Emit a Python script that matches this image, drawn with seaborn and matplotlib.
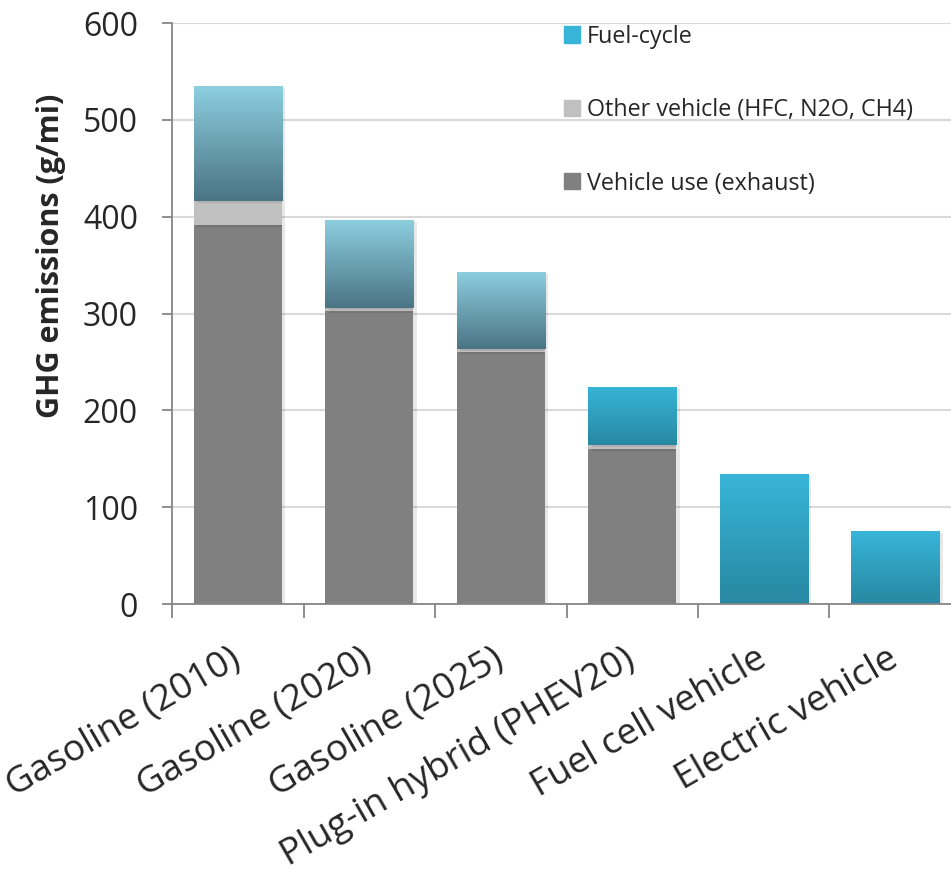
import numpy as np
import matplotlib
matplotlib.use("Agg")
import matplotlib.pyplot as plt
import matplotlib.patches as mpatches
import matplotlib.colors as mcolors
import matplotlib.patheffects as pe
import matplotlib.transforms as mtransforms
import seaborn as sns

# ──────────────────────────────────────────────
# Data (g/mi)
# ──────────────────────────────────────────────
categories = ["Gasoline (2010)", "Gasoline (2020)", "Gasoline (2025)",
              "Plug-in hybrid (PHEV20)", "Fuel cell vehicle", "Electric vehicle"]
vehicle_use = [391, 303, 260, 160, 0, 0]
other_vehicle = [25, 3, 3, 4, 0, 0]
fuel_cycle = [119, 91, 80, 60, 134, 75]

series_names = ["Vehicle use (exhaust)", "Other vehicle (HFC, N2O, CH4)", "Fuel-cycle"]

# ──────────────────────────────────────────────
# Style
# ──────────────────────────────────────────────
sns.set_style("white")
plt.rcParams["font.family"] = ["Open Sans", "DejaVu Sans"]

GRAY_DARK = "#808080"
GRAY_LIGHT = "#c0c0c0"
AXIS_GRAY = "#868686"
GRID_GRAY = "#d9d9d9"
# gradients (top, bottom)
GRAD_PALE = ("#8dcfe0", "#4a7484")
GRAD_BRIGHT = ("#37b5d8", "#2888a2")

fig = plt.figure(figsize=(9.51, 8.72), dpi=100)
ax = fig.add_axes([172 / 951, 268 / 872, 789 / 951, 581 / 872])

bottom_other = np.array(vehicle_use)
bottom_fuel = bottom_other + np.array(other_vehicle)

sns.barplot(x=categories, y=vehicle_use, color=GRAY_DARK, width=0.67,
            linewidth=0, saturation=1, ax=ax)
sns.barplot(x=categories, y=other_vehicle, color=GRAY_LIGHT, width=0.67,
            linewidth=0, saturation=1, bottom=bottom_other, ax=ax)
sns.barplot(x=categories, y=fuel_cycle, color="white", width=0.67,
            linewidth=0, saturation=1, bottom=bottom_fuel, ax=ax)

# soft drop shadow like the original
shadow = [pe.SimplePatchShadow(offset=(2.5, -1.5), shadow_rgbFace="#000000", alpha=0.09),
          pe.Normal()]
for p in ax.patches:
    if p.get_height() > 0:
        p.set_path_effects(shadow)

# gradient fill for the fuel-cycle bars
fuel_patches = ax.patches[-len(categories):]
for i, p in enumerate(fuel_patches):
    top_c, bot_c = GRAD_PALE if i < 3 else GRAD_BRIGHT
    t = np.linspace(0, 1, 256)[:, None]
    c0 = np.array(mcolors.to_rgb(top_c))
    c1 = np.array(mcolors.to_rgb(bot_c))
    grad = (c0 * (1 - t) + c1 * t)[:, None, :]
    x0, y0 = p.get_x(), p.get_y()
    w, h = p.get_width(), p.get_height()
    p.set_facecolor(bot_c)
    im = ax.imshow(grad, extent=[x0, x0 + w, y0, y0 + h], origin="upper",
                   aspect="auto", zorder=p.get_zorder() + 0.01, interpolation="bilinear")
    im.set_clip_path(p)

ax.set_xlim(-0.5, len(categories) - 0.5)
ax.set_ylim(0, 600)
ax.set_yticks(range(0, 601, 100))

ax.set_axisbelow(True)
ax.yaxis.grid(True, color=GRID_GRAY, linewidth=1.5)
ax.xaxis.grid(False)

for s in ["top", "right"]:
    ax.spines[s].set_visible(False)
for s in ["left", "bottom"]:
    ax.spines[s].set_color(AXIS_GRAY)
    ax.spines[s].set_linewidth(1.3)

ax.tick_params(axis="y", which="major", direction="out", length=7.5, width=1.3,
               color=AXIS_GRAY, labelsize=23, pad=17, left=True)
ax.set_xticks(np.arange(-0.5, len(categories), 1.0), minor=True)
ax.tick_params(axis="x", which="minor", direction="out", length=10, width=1.3,
               color=AXIS_GRAY, bottom=True)
ax.tick_params(axis="x", which="major", length=0, pad=27, labelsize=26.5)
ax.set_xticks(range(len(categories)))
ax.set_xticklabels(categories, rotation=30, ha="right", rotation_mode="anchor")

# nudge the slanted category labels a little to the left
nudge = mtransforms.ScaledTranslation(-9 / 100, 0, fig.dpi_scale_trans)
for lab in ax.get_xticklabels():
    lab.set_transform(lab.get_transform() + nudge)

ax.set_xlabel("")
ax.set_ylabel("GHG emissions (g/mi)", fontsize=22, fontweight="bold")
ax.yaxis.set_label_coords((66 - 172) / 789, (604 - 256) / 581)

handles = [
    mpatches.Patch(color=GRAD_BRIGHT[0], label=series_names[2]),
    mpatches.Patch(color=GRAY_LIGHT, label=series_names[1]),
    mpatches.Patch(color=GRAY_DARK, label=series_names[0]),
]
ax.legend(handles=handles, loc="upper left", bbox_to_anchor=(552 / 951, 1 - 13 / 872),
          bbox_transform=fig.transFigure, frameon=False, borderpad=0,
          handlelength=0.68, handleheight=0.68, handletextpad=0.33,
          labelspacing=2.12, fontsize=16.8)

fig.savefig("out.png", dpi=100)
